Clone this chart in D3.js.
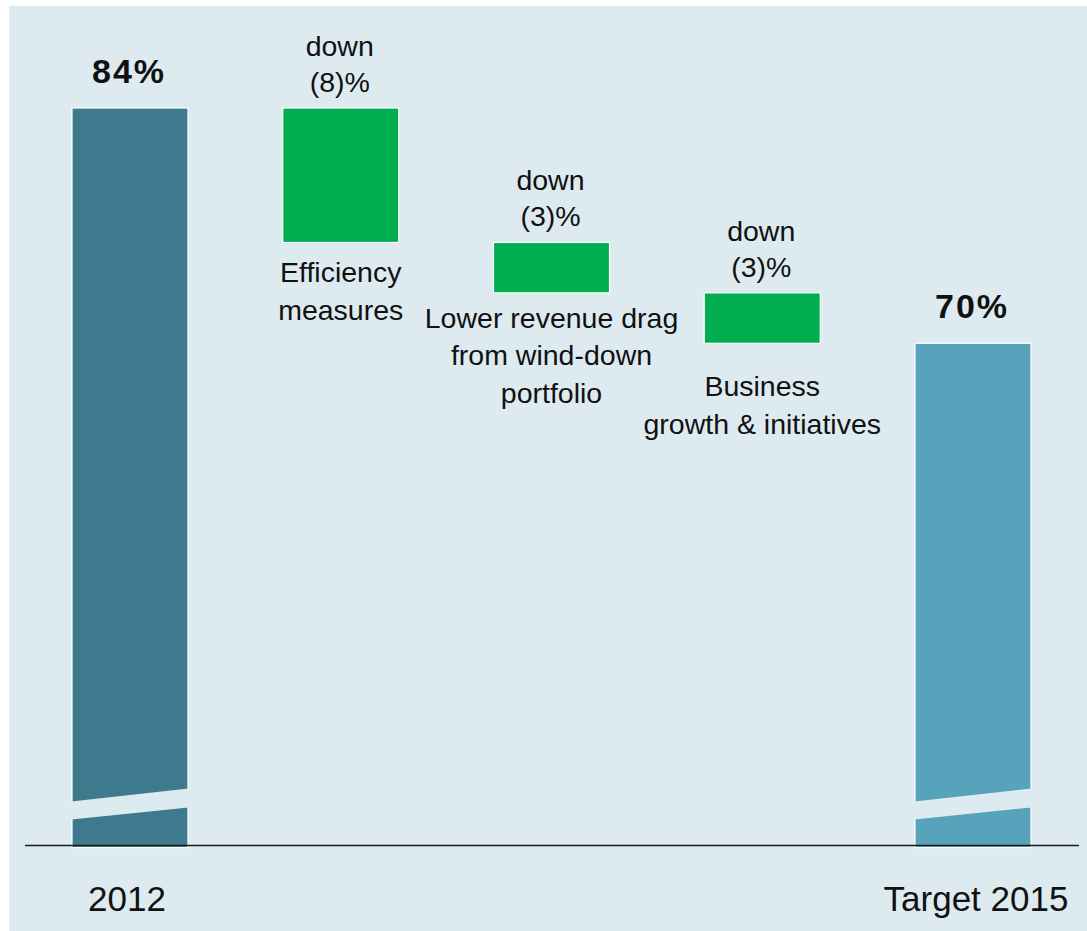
<!DOCTYPE html>
<html>
<head>
<meta charset="utf-8">
<script src="https://cdn.jsdelivr.net/npm/d3@7"></script>
<style>
  html, body { margin: 0; padding: 0; background: #ffffff; }
  svg { display: block; }
  text { font-family: "Liberation Sans", Arial, Helvetica, sans-serif; fill: #111; }
</style>
</head>
<body>
<svg id="chart" width="1087" height="931"></svg>
<script>
// ---- data ----
const categories = ["2012", "Efficiency measures", "Lower revenue drag from wind-down portfolio", "Business growth & initiatives", "Target 2015"];
const values = [84, -8, -3, -3, 70];
const kinds = ["total", "delta", "delta", "delta", "total"];
const axisLabels = ["2012", "", "", "", "Target 2015"];
const totalLabels = ["84%", "", "", "", "70%"];
const deltaLabels = [[], ["down", "(8)%"], ["down", "(3)%"], ["down", "(3)%"], []];
const noteLines = [[], ["Efficiency", "measures"], ["Lower revenue drag", "from wind-down", "portfolio"], ["Business", "growth & initiatives"], []];
const axisFloor = 40; // value at the broken baseline

// ---- layout / style ----
const W = 1087, H = 931;
const colors = { total0: "#3d7a8e", total1: "#57a3bb", delta: "#00ae50", bg: "#ddebf1" };
const noteGap = [0, 40, 35, 53, 0];
const barW = 116;

const svg = d3.select("#chart");
svg.append("rect").attr("x", 9).attr("y", 6).attr("width", W - 9).attr("height", H - 6).attr("fill", colors.bg);

const x = d3.scalePoint().domain(d3.range(categories.length)).range([130, 973]);
const y = d3.scaleLinear().domain([axisFloor, 84]).range([847.5, 108]);

// waterfall computation
let run = 0;
const bars = values.map((v, i) => {
  let lo, hi;
  if (kinds[i] === "total") { lo = axisFloor; hi = v; run = v; }
  else { hi = run; lo = run + v; run = lo; }
  return { i, lo, hi, kind: kinds[i] };
});

const g = svg.append("g");
g.selectAll("rect.bar").data(bars).join("rect")
  .attr("class", "bar")
  .attr("x", d => x(d.i) - barW / 2)
  .attr("width", barW)
  .attr("y", d => y(d.hi))
  .attr("height", d => y(d.lo) - y(d.hi))
  .attr("fill", d => d.kind === "delta" ? colors.delta : (d.i === 0 ? colors.total0 : colors.total1))
  .attr("stroke", "#ffffff")
  .attr("stroke-width", 1.2);

// axis-break gaps on total bars
const base = y(axisFloor);
g.selectAll("path.brk").data(bars.filter(d => d.kind === "total")).join("path")
  .attr("class", "brk")
  .attr("fill", colors.bg)
  .attr("d", d => {
    const x0 = x(d.i) - barW / 2 - 3, x1 = x(d.i) + barW / 2 + 3;
    const k = 12 / barW;
    const ul = base - 46 + 3 * k, ur = base - 59 - 3 * k;
    const ll = base - 28 + 3 * k, lr = base - 40 - 3 * k;
    return `M${x0},${ul}L${x1},${ur}L${x1},${lr}L${x0},${ll}Z`;
  });

// baseline axis line
svg.append("line").attr("x1", 25).attr("x2", 1079).attr("y1", 845.5).attr("y2", 845.5)
  .attr("stroke", "#1a1a1a").attr("stroke-width", 1.6);

// category labels
svg.selectAll("text.cat").data(axisLabels.map((t, i) => ({ t, i })).filter(d => d.t)).join("text")
  .attr("class", "cat")
  .attr("x", d => x(d.i) + (d.i === 0 ? -3 : 3))
  .attr("y", 911)
  .attr("text-anchor", "middle")
  .attr("font-size", 35)
  .text(d => d.t);

// total value labels
svg.selectAll("text.tot").data(bars.filter(d => d.kind === "total")).join("text")
  .attr("class", "tot")
  .attr("x", d => x(d.i) - 1)
  .attr("y", d => y(d.hi) - 25)
  .attr("text-anchor", "middle")
  .attr("font-size", 34)
  .attr("font-weight", "bold")
  .attr("letter-spacing", 2)
  .text(d => totalLabels[d.i]);

// delta labels above and notes below
bars.filter(d => d.kind === "delta").forEach(d => {
  const t = svg.append("text").attr("text-anchor", "middle").attr("font-size", 28.5);
  deltaLabels[d.i].forEach((line, j) => {
    t.append("tspan").attr("x", x(d.i) - 1).attr("y", y(d.hi) - 52 + j * 36).text(line);
  });
  const n = svg.append("text").attr("text-anchor", "middle").attr("font-size", 28.5);
  noteLines[d.i].forEach((line, j) => {
    n.append("tspan").attr("x", x(d.i)).attr("y", y(d.lo) + noteGap[d.i] + j * 37.5).text(line);
  });
});
</script>
</body>
</html>
